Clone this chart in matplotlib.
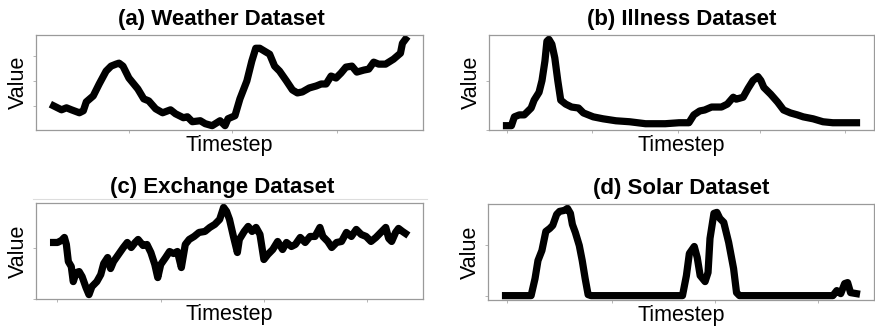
import numpy as np
import matplotlib
matplotlib.use('Agg')
import matplotlib.pyplot as plt
from matplotlib.lines import Line2D

plt.rcParams['font.family'] = ['Liberation Sans', 'DejaVu Sans']

# values (arbitrary units)
weather_t = [0, 8, 13, 18, 26, 30, 33, 40, 46, 53, 58, 63, 66, 70, 76, 85, 91, 96, 103, 110,
             118, 123, 131, 135, 140, 148, 153, 160, 168, 173, 176, 183, 188, 195, 200, 204, 208, 213, 218, 223,
             228, 235, 241, 246, 251, 258, 265, 270, 275, 280, 285, 290, 295, 301, 306, 313, 318, 323, 328, 335,
             343, 350, 352, 355]
weather_v = [25, 21, 23, 21, 18, 20, 29, 35, 47, 60, 65, 67, 68, 65, 53, 42, 32, 30, 22, 18,
             21, 17, 13, 14, 9, 10, 7, 5, 10, 5, 12, 15, 32, 50, 70, 83, 83, 80, 77, 65,
             60, 50, 41, 38, 39, 43, 45, 47, 47, 55, 53, 58, 64, 65, 59, 61, 62, 69, 67, 67,
             72, 78, 88, 92]
weather_ticks = [76, 180, 286]

illness_t = [0, 5, 8, 13, 18, 25, 28, 33, 36, 39, 41, 43, 46, 49, 52, 55, 60, 66, 73, 78,
             88, 98, 111, 125, 141, 161, 175, 185, 190, 196, 201, 208, 218, 224, 230, 233, 240, 245, 250, 255,
             258, 261, 268, 275, 281, 288, 295, 301, 311, 321, 331, 345, 355]
illness_v = [4, 4, 13, 15, 15, 22, 30, 38, 50, 70, 90, 92, 87, 73, 50, 30, 26, 23, 22, 17,
             13, 11, 9, 8, 6, 6, 7, 7, 15, 19, 20, 23, 23, 26, 33, 31, 33, 42, 50, 54,
             50, 43, 36, 28, 20, 17, 15, 13, 11, 8, 7, 7, 7]
illness_ticks = [0, 87, 174, 257, 343]

exchange_t = [0, 4, 8, 11, 13, 15, 18, 20, 23, 26, 29, 33, 36, 39, 44, 48, 51, 55, 58, 61,
              66, 71, 75, 79, 83, 86, 91, 95, 99, 103, 106, 109, 114, 118, 122, 126, 130, 134, 138, 143,
              148, 154, 159, 164, 169, 173, 176, 179, 183, 187, 189, 194, 198, 202, 206, 210, 214, 218, 223, 228,
              233, 237, 242, 246, 251, 256, 261, 266, 271, 274, 279, 283, 288, 293, 298, 303, 308, 313, 318, 323,
              328, 333, 338, 341, 344, 348, 351, 355, 358]
exchange_v = [56, 56, 58, 61, 54, 37, 32, 17, 26, 27, 22, 11, 4, 12, 17, 24, 35, 41, 30, 37,
              44, 51, 56, 51, 56, 59, 53, 54, 46, 34, 21, 34, 41, 47, 45, 47, 31, 54, 59, 62,
              66, 67, 71, 74, 79, 91, 87, 79, 62, 46, 59, 67, 72, 67, 71, 64, 39, 44, 49, 57,
              49, 56, 52, 54, 61, 56, 62, 62, 71, 62, 57, 51, 56, 57, 66, 62, 69, 64, 62, 57,
              61, 66, 71, 60, 57, 66, 70, 67, 65]
exchange_ticks = [3, 109, 214, 319]

solar_t = [0, 26, 30, 33, 37, 41, 45, 48, 52, 55, 60, 63, 66, 68, 71, 75, 78, 81, 84, 87,
           180, 184, 187, 192, 195, 198, 203, 206, 208, 212, 215, 218, 222, 227, 232, 235, 238,
           333, 337, 341, 345, 348, 351, 357]
solar_v = [0, 0, 17, 35, 45, 64, 67, 70, 81, 84, 85, 87, 82, 71, 63, 50, 35, 17, 1, 0,
           0, 20, 42, 49, 38, 20, 14, 23, 57, 82, 83, 77, 73, 53, 27, 3, 0,
           0, 5, 2, 12, 13, 3, 2]
solar_ticks = [1, 108, 213, 318]

panels = [
    ('(a) Weather Dataset', weather_t, weather_v, weather_ticks, [36, 35, 423, 130], 0.48),
    ('(b) Illness Dataset', illness_t, illness_v, illness_ticks, [489, 35, 874, 130], 0.5),
    ('(c) Exchange Dataset', exchange_t, exchange_v, exchange_ticks, [36, 203, 423, 299], 0.48),
    ('(d) Solar Dataset', solar_t, solar_v, solar_ticks, [488, 204, 874, 300], 0.5),
]

W, H = 875, 327
fig = plt.figure(figsize=(W / 100, H / 100), dpi=100)

for title, t, v, ticks, (x0, y0, x1, y1), tx in panels:
    ax = fig.add_axes([x0 / W, 1 - y1 / H, (x1 - x0) / W, (y1 - y0) / H])
    ax.plot(t, v, color='black', lw=5.2, solid_joinstyle='round')
    ax.set_xticks(ticks)
    ax.set_xticklabels([])
    ax.set_yticklabels([])
    ax.tick_params(length=2.5, width=0.6, color='#aaaaaa')
    for s in ax.spines.values():
        s.set_color('#9a9a9a')
        s.set_linewidth(0.9)
    ax.set_title(title, fontsize=16, fontweight='bold', pad=7, x=tx)
    ax.set_xlabel('Timestep', fontsize=15.5, labelpad=-2.5)
    ax.set_ylabel('Value', fontsize=15.5, labelpad=-1)

# faint rule above panel (c)
fig.add_artist(Line2D([33 / W, 427 / W], [1 - 199 / H, 1 - 199 / H], color='#dddddd', lw=0.8))

fig.savefig('out.png', dpi=100)
